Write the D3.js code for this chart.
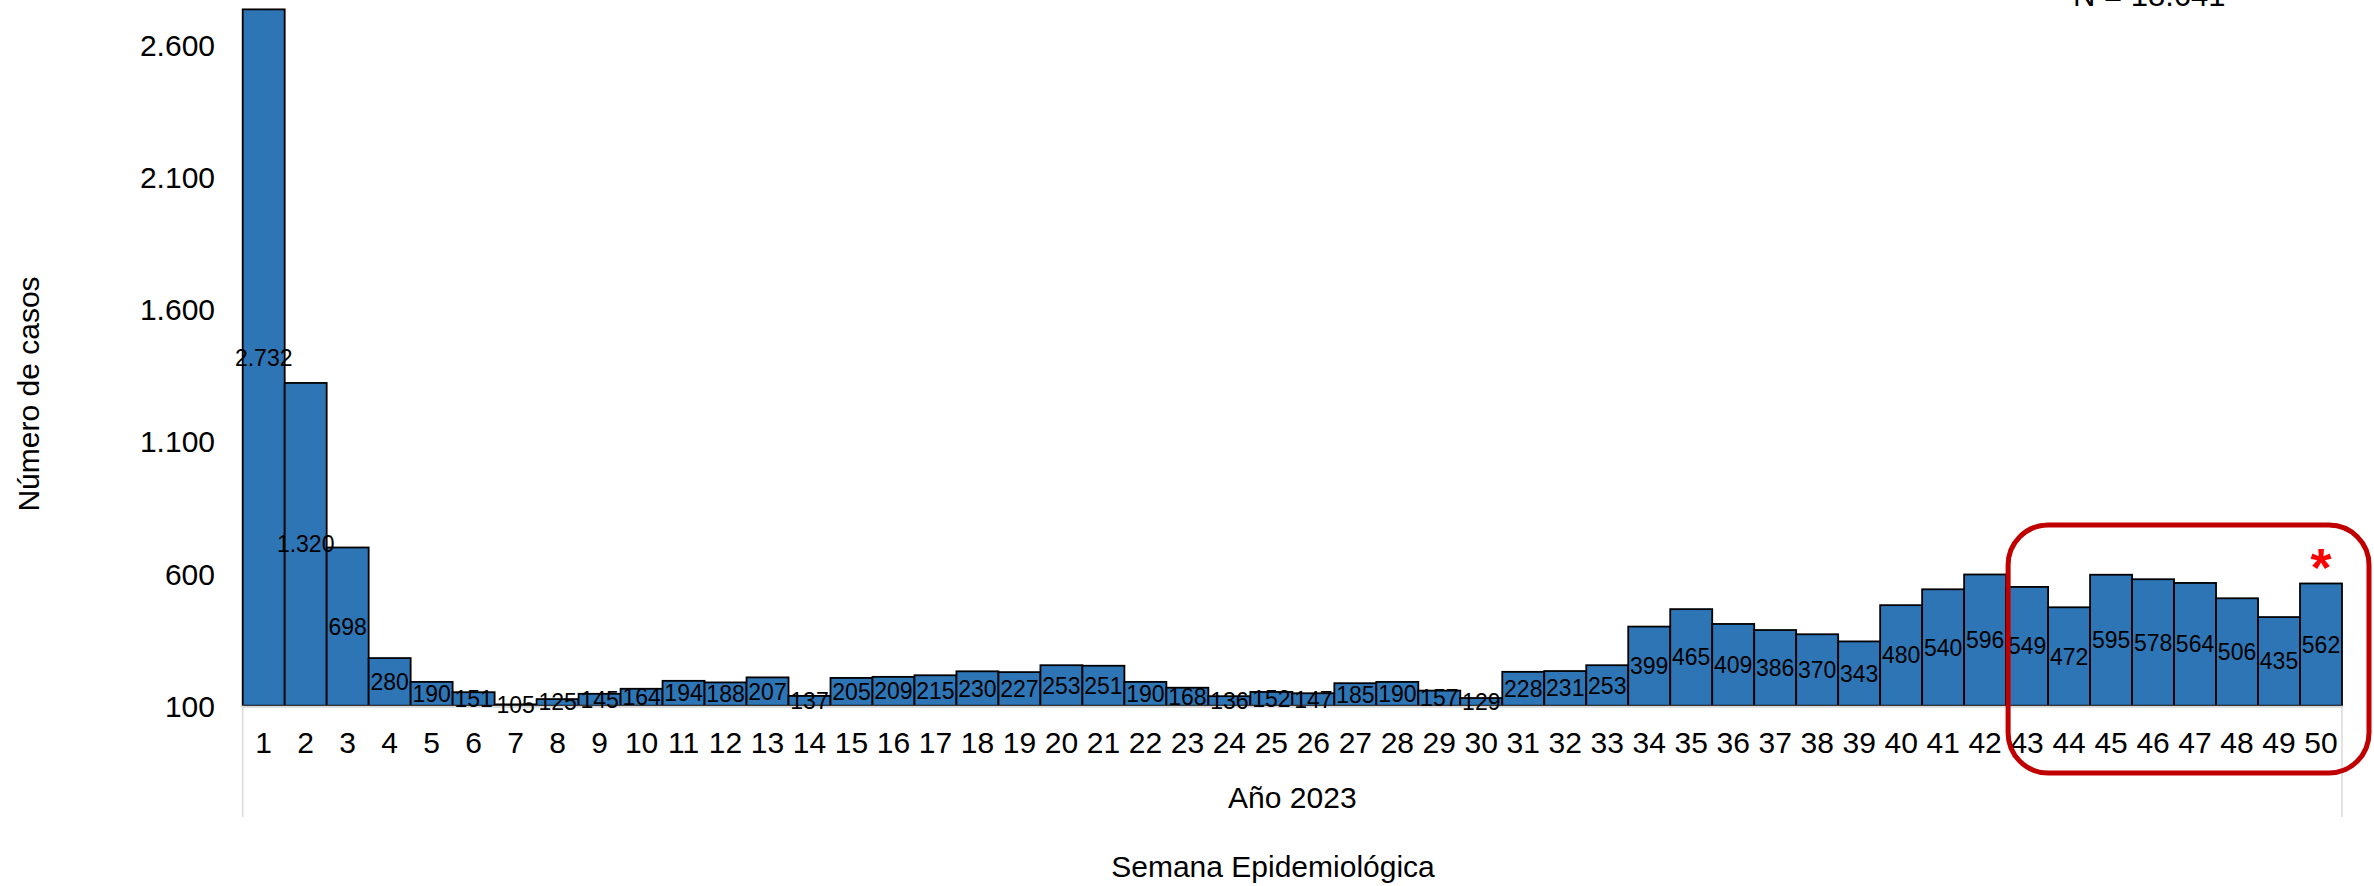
<!DOCTYPE html>
<html>
<head>
<meta charset="utf-8">
<script src="https://cdn.jsdelivr.net/npm/d3@7"></script>
<style>
  html, body { margin: 0; padding: 0; background: #ffffff; }
  svg { display: block; font-family: "Liberation Sans", Arial, sans-serif; }
</style>
</head>
<body>
<svg id="chart" width="2374" height="886"></svg>
<script>
// ---- Data ----
const weeks = [1,2,3,4,5,6,7,8,9,10,11,12,13,14,15,16,17,18,19,20,21,22,23,24,25,
               26,27,28,29,30,31,32,33,34,35,36,37,38,39,40,41,42,43,44,45,46,47,48,49,50];
const cases = [2732,1320,698,280,190,151,105,125,145,164,194,188,207,137,205,209,215,230,227,253,
               251,190,168,136,152,147,185,190,157,129,228,231,253,399,465,409,386,370,343,480,
               540,596,549,472,595,578,564,506,435,562];
const yTicks = [100,600,1100,1600,2100,2600];
const highlightWeeks = [43,50];   // boxed range
const starWeek = 50;
const totalLabel = "N = 18.641";
const yearLabel = "Año 2023";
const xTitle = "Semana Epidemiológica";
const yTitle = "Número de casos";

// ---- Layout ----
const svg = d3.select("#chart");
const plot = { left: 242.7, right: 2342, base: 705.7, topRef: 44.3 };

const locale = d3.formatLocale({ decimal: ",", thousands: ".", grouping: [3], currency: ["$", ""] });
const fmt = locale.format(",d");

const x = d3.scaleBand().domain(weeks).range([plot.left, plot.right]).padding(0);
const y = d3.scaleLinear().domain([100, 2600]).range([plot.base, plot.topRef]);

// Bars
svg.append("g").selectAll("rect")
  .data(weeks.map((w, i) => ({ w, v: cases[i] })))
  .join("rect")
  .attr("x", d => x(d.w))
  .attr("width", x.bandwidth())
  .attr("y", d => y(d.v))
  .attr("height", d => y(100) - y(d.v))
  .attr("fill", "#2E75B6")
  .attr("stroke", "#000000")
  .attr("stroke-width", 1.8);

// X axis baseline and group separators
const axisColor = "#d9d9d9";
svg.append("line")
  .attr("x1", plot.left).attr("x2", plot.right)
  .attr("y1", plot.base + 1).attr("y2", plot.base + 1)
  .attr("stroke", axisColor).attr("stroke-width", 2);
[plot.left, plot.right].forEach(px => {
  svg.append("line")
    .attr("x1", px).attr("x2", px)
    .attr("y1", plot.base).attr("y2", 817)
    .attr("stroke", axisColor).attr("stroke-width", 1.5);
});

// Data labels (centered in bar)
svg.append("g").selectAll("text")
  .data(weeks.map((w, i) => ({ w, v: cases[i] })))
  .join("text")
  .attr("x", d => x(d.w) + x.bandwidth() / 2)
  .attr("y", d => (y(d.v) + y(100)) / 2)
  .attr("dy", "0.35em")
  .attr("text-anchor", "middle")
  .attr("font-size", 23)
  .attr("fill", "#000")
  .text(d => fmt(d.v));

// X tick labels
const xAxis = d3.axisBottom(x).tickSize(0).tickPadding(0);
const gx = svg.append("g").attr("transform", `translate(0, 753)`).call(xAxis);
gx.select(".domain").remove();
gx.selectAll("text").attr("font-size", 30).attr("fill", "#000")
  .attr("font-family", "'Liberation Sans', Arial, sans-serif")
  .attr("dy", 0).attr("y", 0);

// Y tick labels
const yAxis = d3.axisLeft(y).tickValues(yTicks).tickSize(0).tickPadding(0).tickFormat(fmt);
const gy = svg.append("g").attr("transform", `translate(215, 0)`).call(yAxis);
gy.select(".domain").remove();
gy.selectAll("text").attr("font-size", 30).attr("fill", "#000")
  .attr("font-family", "'Liberation Sans', Arial, sans-serif")
  .attr("dy", "0.357em");

// Titles
svg.append("text")
  .attr("transform", "translate(38.5, 394) rotate(-90)")
  .attr("text-anchor", "middle")
  .attr("font-size", 30)
  .text(yTitle);

svg.append("text")
  .attr("x", (plot.left + plot.right) / 2).attr("y", 808)
  .attr("text-anchor", "middle").attr("font-size", 30)
  .text(yearLabel);

svg.append("text")
  .attr("x", 1273).attr("y", 877)
  .attr("text-anchor", "middle").attr("font-size", 30)
  .text(xTitle);

svg.append("text")
  .attr("x", 2073).attr("y", 6)
  .attr("text-anchor", "start").attr("font-size", 31)
  .text(totalLabel);

// Highlight box around weeks 43-50
const bx0 = x(highlightWeeks[0]) + 2;
svg.append("rect")
  .attr("x", bx0).attr("y", 525)
  .attr("width", 2369 - bx0).attr("height", 248)
  .attr("rx", 40).attr("ry", 40)
  .attr("fill", "none")
  .attr("stroke", "#C00000")
  .attr("stroke-width", 5);

// Red asterisk above last week
svg.append("text")
  .attr("x", x(starWeek) + x.bandwidth() / 2)
  .attr("y", 586)
  .attr("text-anchor", "middle")
  .attr("font-size", 54)
  .attr("font-weight", "bold")
  .attr("fill", "#FF0000")
  .text("*");
</script>
</body>
</html>
